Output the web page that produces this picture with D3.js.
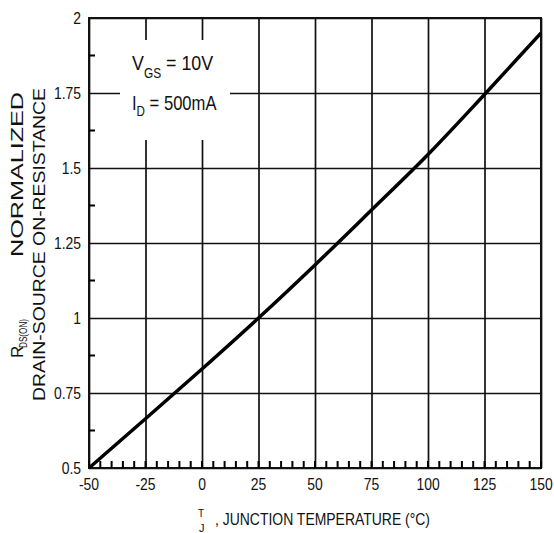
<!DOCTYPE html>
<html>
<head>
<meta charset="utf-8">
<script src="https://cdn.jsdelivr.net/npm/d3@7"></script>
<style>
body { margin: 0; background: #fff; }
text { font-family: "Liberation Sans", Arial, sans-serif; fill: #111; }
</style>
</head>
<body>
<div id="chart"></div>
<script>
// values
var tempC = [-50, -25, 0, 25, 50, 75, 100, 125, 150];
var rdsNorm = [0.5, 0.664, 0.830, 1.0, 1.177, 1.36, 1.545, 1.745, 1.95];

var xTicks = [-50, -25, 0, 25, 50, 75, 100, 125, 150];
var yTicks = [0.5, 0.75, 1, 1.25, 1.5, 1.75, 2];
var yTickLabels = ["0.5", "0.75", "1", "1.25", "1.5", "1.75", "2"];
var yMinor = [0.625, 0.875, 1.125, 1.375, 1.625, 1.875];

var margin = {top: 18, right: 13, bottom: 65, left: 89};
var width = 554 - margin.left - margin.right;
var height = 533 - margin.top - margin.bottom;

var svg = d3.select("#chart")
    .append("svg")
    .attr("width", 554)
    .attr("height", 533)
    .append("g")
    .attr("transform", "translate(" + margin.left + "," + margin.top + ")");

var x = d3.scaleLinear().domain([-50, 150]).range([0, width]);
var y = d3.scaleLinear().domain([0.5, 2]).range([height, 0]);

// grid lines
svg.append("g")
    .attr("transform", "translate(0," + height + ")")
    .call(d3.axisBottom(x).tickValues(xTicks).tickSize(-height).tickFormat(""));
svg.append("g")
    .call(d3.axisLeft(y).tickValues(yTicks).tickSize(-width).tickFormat(""));
svg.selectAll(".tick line").attr("stroke", "#111").attr("stroke-width", 1.7);
svg.selectAll(".domain").remove();

// frame
svg.append("rect")
    .attr("width", width)
    .attr("height", height)
    .attr("fill", "none")
    .attr("stroke", "#111")
    .attr("stroke-width", 2);

// minor ticks as one path, on top of the frame
var minor = "";
x.ticks(40).forEach(function(d) {
    minor += "M" + x(d).toFixed(1) + "," + height + "V" + (height - 7);
});
yMinor.forEach(function(d) {
    minor += "M0," + y(d).toFixed(1) + "H6";
});
svg.append("path")
    .attr("d", minor)
    .attr("fill", "none")
    .style("stroke", "#000")
    .style("stroke-width", "2px");

// tick labels (condensed look)
svg.selectAll(".xlab")
    .data(xTicks)
    .enter().append("text")
    .attr("transform", function(d) { return "translate(" + x(d) + "," + (height + 22) + ") scale(0.82,1)"; })
    .attr("text-anchor", "middle")
    .style("font-size", "17px")
    .text(function(d) { return d; });
svg.selectAll(".ylab")
    .data(yTicks)
    .enter().append("text")
    .attr("transform", function(d) { return "translate(-8," + y(d) + ") scale(0.82,1)"; })
    .attr("dy", "0.36em")
    .attr("text-anchor", "end")
    .style("font-size", "17px")
    .text(function(d, i) { return yTickLabels[i]; });

// blank box behind the condition note
svg.append("rect")
    .attr("x", 120 - margin.left)
    .attr("y", 40 - margin.top)
    .attr("width", 110)
    .attr("height", 100)
    .attr("fill", "#fff");

var note1 = svg.append("text")
    .attr("transform", "translate(" + (132 - margin.left) + "," + (70 - margin.top) + ") scale(0.85,1)")
    .style("font-size", "21px");
note1.append("tspan").text("V");
note1.append("tspan").attr("dy", 8).style("font-size", "14px").text("GS");
note1.append("tspan").attr("dy", -8).text(" = 10V");

var note2 = svg.append("text")
    .attr("transform", "translate(" + (132 - margin.left) + "," + (110 - margin.top) + ") scale(0.83,1)")
    .style("font-size", "20px");
note2.append("tspan").text("I");
note2.append("tspan").attr("dy", 6).style("font-size", "14px").text("D");
note2.append("tspan").attr("dy", -6).text(" = 500mA");

// curve
svg.append("path")
    .datum(tempC)
    .attr("fill", "none")
    .attr("stroke", "#000")
    .attr("stroke-width", 3.5)
    .attr("d", d3.line()
        .curve(d3.curveMonotoneX)
        .x(function(d) { return x(d); })
        .y(function(d, i) { return y(rdsNorm[i]); })
    );

// axis titles (page coordinates)
var page = d3.select("#chart svg");
page.append("text")
    .attr("transform", "translate(23,358) rotate(-90)")
    .style("font-size", "17px")
    .text("R");
page.append("text")
    .attr("transform", "translate(27,348) rotate(-90)")
    .attr("textLength", 29)
    .attr("lengthAdjust", "spacingAndGlyphs")
    .style("font-size", "10px")
    .text("DS(ON)");
page.append("text")
    .attr("transform", "translate(23,257) rotate(-90)")
    .attr("textLength", 165)
    .attr("lengthAdjust", "spacingAndGlyphs")
    .style("font-size", "16px")
    .text("NORMALIZED");
page.append("text")
    .attr("transform", "translate(45,401) rotate(-90)")
    .attr("textLength", 313)
    .attr("lengthAdjust", "spacingAndGlyphs")
    .style("font-size", "16px")
    .text("DRAIN-SOURCE ON-RESISTANCE");

page.append("text")
    .attr("x", 198)
    .attr("y", 517)
    .style("font-size", "10px")
    .text("T");
page.append("text")
    .attr("x", 199)
    .attr("y", 532)
    .style("font-size", "11px")
    .text("J");
page.append("text")
    .attr("x", 215)
    .attr("y", 525)
    .attr("textLength", 215)
    .attr("lengthAdjust", "spacingAndGlyphs")
    .style("font-size", "17px")
    .text(", JUNCTION TEMPERATURE (°C)");
</script>
</body>
</html>
